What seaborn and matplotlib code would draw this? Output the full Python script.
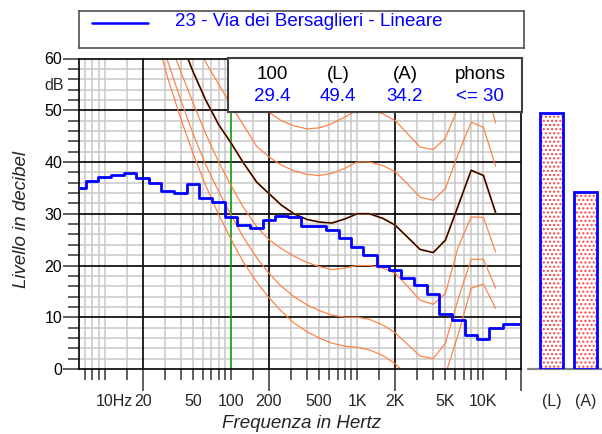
import pandas as pd
import matplotlib
matplotlib.use("Agg")
import matplotlib.pyplot as plt
import matplotlib.transforms as mtransforms
from matplotlib.ticker import FixedLocator, MultipleLocator, NullFormatter
import seaborn as sns

# ---- measured 1/3-octave spectrum -------------------------------------
band_centres = [6.3, 8, 10, 12.5, 16, 20, 25, 31.5, 40, 50, 63, 80, 100, 125,
                160, 200, 250, 315, 400, 500, 630, 800, 1000, 1250, 1600, 2000,
                2500, 3150, 4000, 5000, 6300, 8000, 10000, 12500, 16000, 20000]
band_levels = [34.9, 36.3, 37.1, 37.4, 37.8, 36.9, 35.9, 34.3, 34.1, 35.7,
               33.1, 32.3, 29.4, 27.9, 27.3, 28.7, 29.6, 29.3, 27.6, 27.6,
               26.9, 25.4, 23.6, 22.0, 19.9, 19.1, 17.5, 16.2, 14.5, 10.7,
               9.5, 6.5, 5.8, 8.0, 8.6, 8.7]

# ---- equal-loudness contours ------------------------------------------
contour_freqs = [20, 25, 31.5, 40, 50, 63, 80, 100, 125, 160, 200, 250, 315,
                 400, 500, 630, 800, 1000, 1250, 1600, 2000, 2500, 3150, 4000,
                 5000, 6300, 8000, 10000, 12500]
threshold = [74.3, 65.0, 56.3, 48.4, 41.7, 35.5, 29.8, 25.1, 20.7, 16.8, 13.8,
             11.2, 8.9, 7.2, 6.0, 5.0, 4.4, 4.2, 3.7, 2.6, 1.0, -1.2, -3.6,
             -3.9, -1.1, 6.6, 15.6, 16.4, 11.7]
phon10 = [76, 67.5, 59.5, 52, 45.5, 39.5, 34.3, 29.8, 25.5, 21.5, 18.5, 16,
          14, 12.4, 11.3, 10.4, 10.0, 10.0, 9.6, 8.5, 7.0, 4.8, 2.5, 2.0, 5.0,
          13.5, 21.2, 21.2, 15.6]
phon20 = [80, 72, 64, 57.5, 51.5, 45.5, 40, 35.5, 31.3, 27.5, 25, 23.3, 21.8,
          20.6, 19.8, 19.2, 19.5, 20, 20, 19.5, 18.5, 16, 13.3, 12.5, 14.6,
          23.5, 29.4, 29.3, 22.6]
phon30 = [84, 77, 70.5, 63.5, 57.5, 52.0, 47.2, 43.7, 39.9, 36.1, 33.9, 31.7,
          30.0, 28.9, 28.4, 28.2, 29.0, 30.0, 30.0, 29.1, 27.8, 25.5, 23.1,
          22.5, 24.9, 31.5, 38.4, 37.4, 30.2]
phon40 = [90, 84, 77.5, 71, 65, 59.3, 55, 51, 47.2, 43, 41, 39.4, 38.3, 37.6,
          37.4, 37.8, 38.8, 40, 40, 39.3, 38.1, 35.8, 33.2, 32.6, 34.9, 41.5,
          47.7, 46.7, 39.2]
phon50 = [97, 91, 85, 79, 73, 67.5, 63.5, 60, 56.2, 52.5, 49.6, 48, 47, 46.4,
          46.6, 47.4, 48.7, 50, 50, 49.3, 48.0, 45.5, 42.9, 42.4, 44.6, 50.5,
          57.5, 56.5, 47.5]

# ---- overall levels ---------------------------------------------------
bar_names = ["(L)", "(A)"]
bar_values = [49.4, 34.2]
table_heads = ["100", "(L)", "(A)", "phons"]
table_values = ["29.4", "49.4", "34.2", "<= 30"]
legend_text = "23 - Via dei Bersaglieri - Lineare"

freq_labels = [(20, "20"), (50, "50"), (100, "100"), (200, "200"),
               (500, "500"), (1000, "1K"), (2000, "2K"), (5000, "5K"),
               (10000, "10K")]
major_freqs = [20, 200, 2000, 20000]
minor_freqs = [7, 8, 9, 10, 15, 30, 40, 50, 60, 70, 80, 90, 100, 150,
               300, 400, 500, 600, 700, 800, 900, 1000, 1500,
               3000, 4000, 5000, 6000, 7000, 8000, 9000, 10000, 15000]
level_lines = [10, 20, 30, 40, 50]

sns.set_theme(style="white")
plt.rcParams["font.family"] = ["Liberation Sans", "DejaVu Sans"]
plt.rcParams["hatch.linewidth"] = 1.0

W, H = 602, 434
def fx(px):
    return px / W
def fy(py):
    return 1 - py / H

BLUE = "#0000ff"
ORANGE = "#ff7f40"
DARK = "#333333"

fig = plt.figure(figsize=(6.02, 4.34), dpi=100)
fig.patch.set_facecolor("white")

AX_L, AX_R, AX_T, AX_B = 79.4, 521.4, 58.5, 369.0
ax = fig.add_axes([fx(AX_L), fy(AX_B), (AX_R - AX_L) / W, (AX_B - AX_T) / H])
ax.set_xscale("log")
ax.set_xlim(6.3, 20000)
ax.set_ylim(0, 60)

# light grid on minor ticks, solid black lines at the decades and every 10 dB
ax.xaxis.set_major_locator(FixedLocator(major_freqs))
ax.xaxis.set_minor_locator(FixedLocator(minor_freqs))
ax.xaxis.set_major_formatter(NullFormatter())
ax.xaxis.set_minor_formatter(NullFormatter())
ax.yaxis.set_major_locator(MultipleLocator(10))
ax.yaxis.set_minor_locator(MultipleLocator(2))
ax.grid(which="minor", color="#c8c8c8", lw=1.1, ls="-")
ax.grid(which="major", visible=False)
ax.set_axisbelow(True)
for f in major_freqs[:-1]:
    ax.axvline(f, color="black", lw=1.2, zorder=1)
for lv in level_lines:
    ax.axhline(lv, color="black", lw=1.2, zorder=1)

ax.tick_params(axis="x", which="major", direction="out", length=15.8,
               width=1.1, color=DARK, bottom=True, labelbottom=False)
ax.tick_params(axis="x", which="minor", direction="out", length=7.9,
               width=1.1, color=DARK, bottom=True, labelbottom=False)
ax.tick_params(axis="y", which="major", direction="out", length=11.5,
               width=1.1, color=DARK, left=True, labelsize=11.5, pad=1,
               labelcolor="black")
ax.tick_params(axis="y", which="minor", direction="out", length=7.9,
               width=1.1, color=DARK, left=True)
for s in ax.spines.values():
    s.set_color("black")
    s.set_linewidth(1.2)

# 100 Hz marker
ax.axvline(100, color="#00a000", lw=1.1, zorder=1.5)

# contours
names = ["thr", "p10", "p20", "p40", "p50"]
series = [threshold, phon10, phon20, phon40, phon50]
curves = pd.DataFrame({
    "freq": contour_freqs * len(series),
    "level": sum(series, []),
    "curve": sum([[n] * len(contour_freqs) for n in names], []),
})
sns.lineplot(data=curves, x="freq", y="level", units="curve", estimator=None,
             color=ORANGE, lw=0.85, ax=ax, legend=False, sort=False)
ref = pd.DataFrame({"freq": contour_freqs, "level": phon30})
sns.lineplot(data=ref, x="freq", y="level", estimator=None, color=ORANGE,
             lw=1.5, ax=ax, legend=False, sort=False)
sns.lineplot(data=ref, x="freq", y="level", estimator=None, color="#000000",
             lw=0.9, ax=ax, legend=False, sort=False)

# spectrum as steps across each band
step_x = [c * 2 ** (-1 / 6) for c in band_centres] + [band_centres[-1] * 2 ** (1 / 6)]
step_y = band_levels + [band_levels[-1]]
spec = pd.DataFrame({"freq": step_x, "level": step_y})
sns.lineplot(data=spec, x="freq", y="level", estimator=None, color=BLUE,
             lw=2.0, drawstyle="steps-post", ax=ax, legend=False, zorder=4)
ax.set_xlabel("")
ax.set_ylabel("")

# frequency labels
lab_tr = mtransforms.blended_transform_factory(ax.transData, ax.transAxes) + \
    mtransforms.ScaledTranslation(0, -23.5 / 72, fig.dpi_scale_trans)
for f, t in freq_labels:
    ax.text(f, 0, t, transform=lab_tr, ha="center", va="center",
            fontsize=11.5)
hz_tr = mtransforms.blended_transform_factory(ax.transData, ax.transAxes) + \
    mtransforms.ScaledTranslation(-6.4 / 72, -23.5 / 72, fig.dpi_scale_trans)
ax.text(10, 0, "10Hz", transform=hz_tr, ha="left", va="center",
        fontsize=11.5)
fig.text(fx(63.5), fy(85), "dB", ha="right", va="center", fontsize=11.5)

fig.text(fx(302), fy(424), "Frequenza in Hertz", ha="center", va="center",
         fontsize=13.5, style="italic")
fig.text(fx(22), fy(219), "Livello in decibel", ha="center", va="center",
         fontsize=13.5, style="italic", rotation=90)

# value table
tax = fig.add_axes([fx(228), fy(112), 294 / W, 54 / H], zorder=5)
tax.set_facecolor("white")
tax.set_xticks([])
tax.set_yticks([])
for s in tax.spines.values():
    s.set_color("#404040")
    s.set_linewidth(1.5)
col_x = [0.150, 0.374, 0.602, 0.857]
for cx, head, val in zip(col_x, table_heads, table_values):
    tax.text(cx, 0.69, head, transform=tax.transAxes, ha="center",
             va="center", fontsize=13.5, color="black")
    tax.text(cx, 0.28, val, transform=tax.transAxes, ha="center",
             va="center", fontsize=13.5, color=BLUE)

# legend box
lax = fig.add_axes([fx(79), fy(48.3), 445 / W, 37.6 / H], zorder=5)
lax.set_facecolor("white")
lax.set_xlim(0, 1)
lax.set_ylim(0, 1)
lax.set_xticks([])
lax.set_yticks([])
for s in lax.spines.values():
    s.set_color("#505050")
    s.set_linewidth(1.2)
lax.plot([0.0285, 0.156], [0.665, 0.665], color=BLUE, lw=1.8)
lax.text(0.2157, 0.705, legend_text, ha="left", va="center", fontsize=13.5,
         color=BLUE)

# overall level bars
bax = fig.add_axes([fx(528), fy(AX_B), 74 / W, (AX_B - AX_T) / H])
sns.barplot(x=bar_names, y=bar_values, ax=bax, color="white",
            edgecolor="#ff4040", linewidth=0, width=0.676, hatch="....",
            saturation=1)
sns.barplot(x=bar_names, y=bar_values, ax=bax, fill=False, color=BLUE,
            linewidth=2.0, width=0.676, saturation=1)
bax.set_ylim(0, 60)
bax.set_xlim(-0.691, 1.485)
bax.patch.set_visible(False)
for s in bax.spines.values():
    s.set_visible(False)
bax.set_yticks([])
bax.set_xlabel("")
bax.set_ylabel("")
bax.tick_params(axis="x", length=0, pad=18, labelsize=11.5, bottom=False)
bax.axhline(0, color="#808080", lw=1.6, clip_on=False, zorder=0)

fig.savefig("out.png", dpi=100)
